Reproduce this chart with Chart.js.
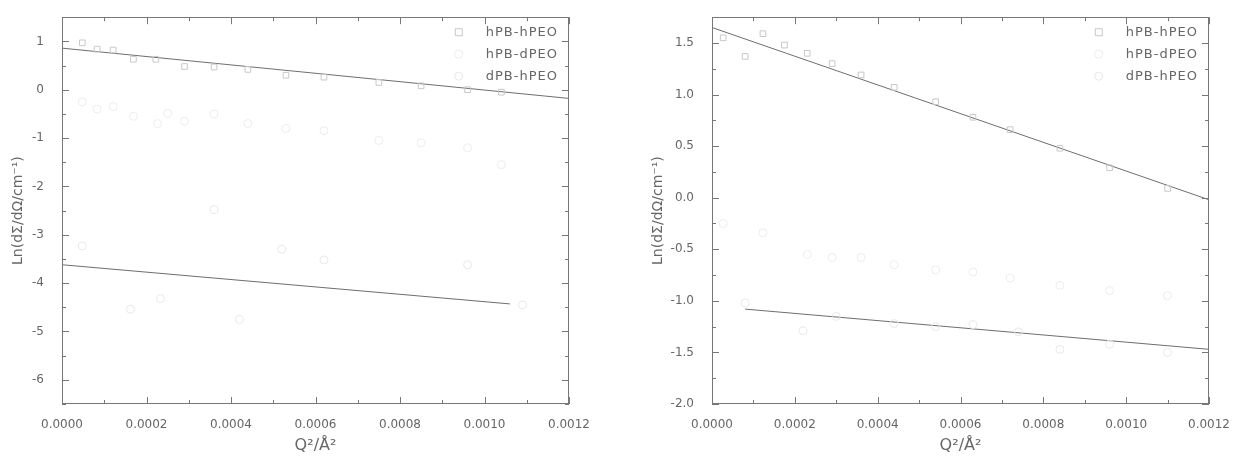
<!DOCTYPE html>
<html>
<head>
<meta charset="utf-8">
<title>SANS Guinier plots</title>
<script src="https://cdn.jsdelivr.net/npm/chart.js@4.4.1/dist/chart.umd.min.js"></script>
<style>
  body { margin: 0; background: #fff; }
  .panel { position: absolute; top: 0; }
</style>
</head>
<body>
<div class="panel" style="left:0"><canvas id="leftChart" width="600" height="463"></canvas></div>
<div class="panel" style="left:620px"><canvas id="rightChart" width="623" height="463"></canvas></div>
<script>
// series labels
const seriesNames = ['hPB-hPEO', 'hPB-dPEO', 'dPB-hPEO'];

// left panel - Q^2 (A^-2) and Ln(dS/dO)
const L_hh_q  = [0.000048, 0.000083, 0.000121, 0.000169, 0.000222, 0.000290, 0.000360, 0.000440, 0.000530, 0.000620, 0.000750, 0.000850, 0.000960, 0.001040];
const L_hh_ln = [0.97, 0.84, 0.82, 0.63, 0.63, 0.48, 0.47, 0.42, 0.30, 0.26, 0.15, 0.08, 0.00, -0.05];
const L_hd_q  = [0.000048, 0.000083, 0.000121, 0.000169, 0.000226, 0.000250, 0.000290, 0.000360, 0.000440, 0.000530, 0.000620, 0.000750, 0.000850, 0.000960, 0.001040];
const L_hd_ln = [-0.25, -0.40, -0.35, -0.55, -0.70, -0.49, -0.65, -0.50, -0.70, -0.80, -0.85, -1.05, -1.10, -1.20, -1.55];
const L_dh_q  = [0.000048, 0.000162, 0.000233, 0.000360, 0.000420, 0.000520, 0.000620, 0.000960, 0.001090];
const L_dh_ln = [-3.23, -4.54, -4.32, -2.48, -4.75, -3.30, -3.52, -3.62, -4.45];
const L_fit1_q = [0, 0.0012],      L_fit1_ln = [0.86, -0.18];
const L_fit2_q = [0, 0.00106],     L_fit2_ln = [-3.62, -4.43];

// right panel
const R_hh_q  = [0.000027, 0.000080, 0.000123, 0.000175, 0.000230, 0.000290, 0.000360, 0.000440, 0.000540, 0.000630, 0.000720, 0.000840, 0.000960, 0.001100];
const R_hh_ln = [1.55, 1.37, 1.59, 1.48, 1.40, 1.30, 1.19, 1.07, 0.93, 0.78, 0.66, 0.48, 0.29, 0.09];
const R_hd_q  = [0.000027, 0.000123, 0.000230, 0.000290, 0.000360, 0.000440, 0.000540, 0.000630, 0.000720, 0.000840, 0.000960, 0.001100];
const R_hd_ln = [-0.25, -0.34, -0.55, -0.58, -0.58, -0.65, -0.70, -0.72, -0.78, -0.85, -0.90, -0.95];
const R_dh_q  = [0.000080, 0.000220, 0.000300, 0.000440, 0.000540, 0.000630, 0.000740, 0.000840, 0.000960, 0.001100];
const R_dh_ln = [-1.02, -1.29, -1.15, -1.22, -1.25, -1.23, -1.30, -1.47, -1.42, -1.50];
const R_fit1_q = [0, 0.0012],      R_fit1_ln = [1.65, -0.02];
const R_fit2_q = [0.00008, 0.0012], R_fit2_ln = [-1.08, -1.47];

// axis ticks
const xTickStep = 0.0002;
const leftYTicks = [1, 0, -1, -2, -3, -4, -5, -6];
const rightYTicks = [1.5, 1.0, 0.5, 0.0, -0.5, -1.0, -1.5, -2.0];

const xTitle = 'Q\u00B2/\u00C5\u00B2';
const yTitle = 'Ln(d\u03A3/d\u03A9/cm\u207B\u00B9)';

const frameColor = '#777';
const textColor = '#666';
const fitColor = '#6e6e6e';
const pointColors = ['#c8c8c8', '#ececec', '#e8e8e8'];
const pointStyles = ['rect', 'circle', 'circle'];

function pts(xs, ys) {
  return xs.map((x, i) => ({ x: x, y: ys[i] }));
}

// box around the plot with inward major/minor ticks on all four sides
const frameTicks = {
  id: 'frameTicks',
  afterDatasetsDraw(chart) {
    const { ctx, chartArea: a, scales } = chart;
    ctx.save();
    ctx.strokeStyle = frameColor;
    ctx.lineWidth = 1;
    ctx.strokeRect(Math.round(a.left) + 0.5, Math.round(a.top) + 0.5,
                   Math.round(a.width) - 1, Math.round(a.height) - 1);
    const marks = scale => {
      const major = scale.ticks.map(t => t.value).sort((p, q) => p - q);
      const step = major[1] - major[0];
      const out = major.map(v => [v, 7]);
      for (let v = major[0] - step / 2; v <= scale.max + 1e-12; v += step) {
        if (v >= scale.min - 1e-12) out.push([v, 4]);
      }
      return out;
    };
    const seg = (x1, y1, x2, y2) => { ctx.beginPath(); ctx.moveTo(x1, y1); ctx.lineTo(x2, y2); ctx.stroke(); };
    marks(scales.x).forEach(([v, len]) => {
      const px = Math.round(scales.x.getPixelForValue(v)) + 0.5;
      seg(px, a.bottom, px, a.bottom - len);
      seg(px, a.top, px, a.top + len);
    });
    marks(scales.y).forEach(([v, len]) => {
      const py = Math.round(scales.y.getPixelForValue(v)) + 0.5;
      seg(a.left, py, a.left + len, py);
      seg(a.right, py, a.right - len, py);
    });
    ctx.restore();
  }
};

// legend drawn inside the top-right corner of the plot
const insideLegend = {
  id: 'insideLegend',
  afterDraw(chart) {
    const { ctx, chartArea: a } = chart;
    ctx.save();
    ctx.font = '13px "DejaVu Sans"';
    ctx.letterSpacing = '1px';
    ctx.textAlign = 'right';
    ctx.textBaseline = 'middle';
    seriesNames.forEach((name, i) => {
      const y = a.top + 15 + i * 22;
      const right = a.right - 11;
      ctx.fillStyle = textColor;
      ctx.fillText(name, right, y);
      const w = ctx.measureText(name).width;
      const mx = right - w - 27;
      ctx.strokeStyle = pointColors[i];
      ctx.lineWidth = 1;
      ctx.beginPath();
      if (pointStyles[i] === 'rect') ctx.rect(mx - 3.5, y - 3.5, 7, 7);
      else ctx.arc(mx, y, 4, 0, Math.PI * 2);
      ctx.stroke();
    });
    ctx.restore();
  }
};

function makePanel(id, d) {
  const scatter = (i, xs, ys) => ({
    label: seriesNames[i],
    data: pts(xs, ys),
    pointStyle: pointStyles[i],
    pointRadius: 4,
    borderColor: pointColors[i],
    backgroundColor: 'rgba(0,0,0,0)',
    borderWidth: 1,
    showLine: false
  });
  const fit = (xs, ys) => ({
    label: 'fit',
    data: pts(xs, ys),
    showLine: true,
    pointRadius: 0,
    borderColor: fitColor,
    borderWidth: 1,
    fill: false
  });
  return new Chart(document.getElementById(id), {
    type: 'scatter',
    data: {
      datasets: [
        scatter(0, d.hh[0], d.hh[1]),
        scatter(1, d.hd[0], d.hd[1]),
        scatter(2, d.dh[0], d.dh[1]),
        fit(d.fit1[0], d.fit1[1]),
        fit(d.fit2[0], d.fit2[1])
      ]
    },
    options: {
      responsive: false,
      animation: false,
      devicePixelRatio: 1,
      layout: { padding: { top: 13, right: d.padRight, left: 0, bottom: 0 } },
      plugins: { legend: { display: false }, tooltip: { enabled: false } },
      scales: {
        x: {
          type: 'linear',
          min: 0,
          max: 0.0012,
          afterFit: s => { s.height = 59; },
          grid: { display: false },
          border: { display: false },
          ticks: {
            stepSize: xTickStep,
            includeBounds: false,
            maxRotation: 0,
            padding: 6,
            color: textColor,
            font: { family: 'DejaVu Sans', size: 12 },
            callback: v => Number(v).toFixed(4)
          },
          title: {
            display: true,
            text: xTitle,
            color: textColor,
            font: { family: 'DejaVu Sans', size: 16 },
            padding: { top: 0, bottom: 8 }
          }
        },
        y: {
          type: 'linear',
          min: d.yMin,
          max: d.yMax,
          afterFit: s => { s.width = d.yWidth; },
          afterBuildTicks: s => { s.ticks = d.yTicks.map(v => ({ value: v })); },
          grid: { display: false },
          border: { display: false },
          ticks: {
            padding: 10,
            color: textColor,
            font: { family: 'DejaVu Sans', size: 12 },
            callback: v => d.yDigits ? Number(v).toFixed(d.yDigits) : String(Math.round(v))
          },
          title: {
            display: true,
            text: yTitle,
            color: textColor,
            font: { family: 'DejaVu Sans', size: 14 },
            padding: { top: d.titlePad, bottom: 0 }
          }
        }
      }
    },
    plugins: [frameTicks, insideLegend]
  });
}

makePanel('leftChart', {
  hh: [L_hh_q, L_hh_ln], hd: [L_hd_q, L_hd_ln], dh: [L_dh_q, L_dh_ln],
  fit1: [L_fit1_q, L_fit1_ln], fit2: [L_fit2_q, L_fit2_ln],
  yMin: -6.5, yMax: 1.5, yTicks: leftYTicks, yDigits: 0,
  yWidth: 62, padRight: 31, titlePad: 10
});

makePanel('rightChart', {
  hh: [R_hh_q, R_hh_ln], hd: [R_hd_q, R_hd_ln], dh: [R_dh_q, R_dh_ln],
  fit1: [R_fit1_q, R_fit1_ln], fit2: [R_fit2_q, R_fit2_ln],
  yMin: -2.0, yMax: 1.75, yTicks: rightYTicks, yDigits: 1,
  yWidth: 92, padRight: 34, titlePad: 30
});
</script>
</body>
</html>
